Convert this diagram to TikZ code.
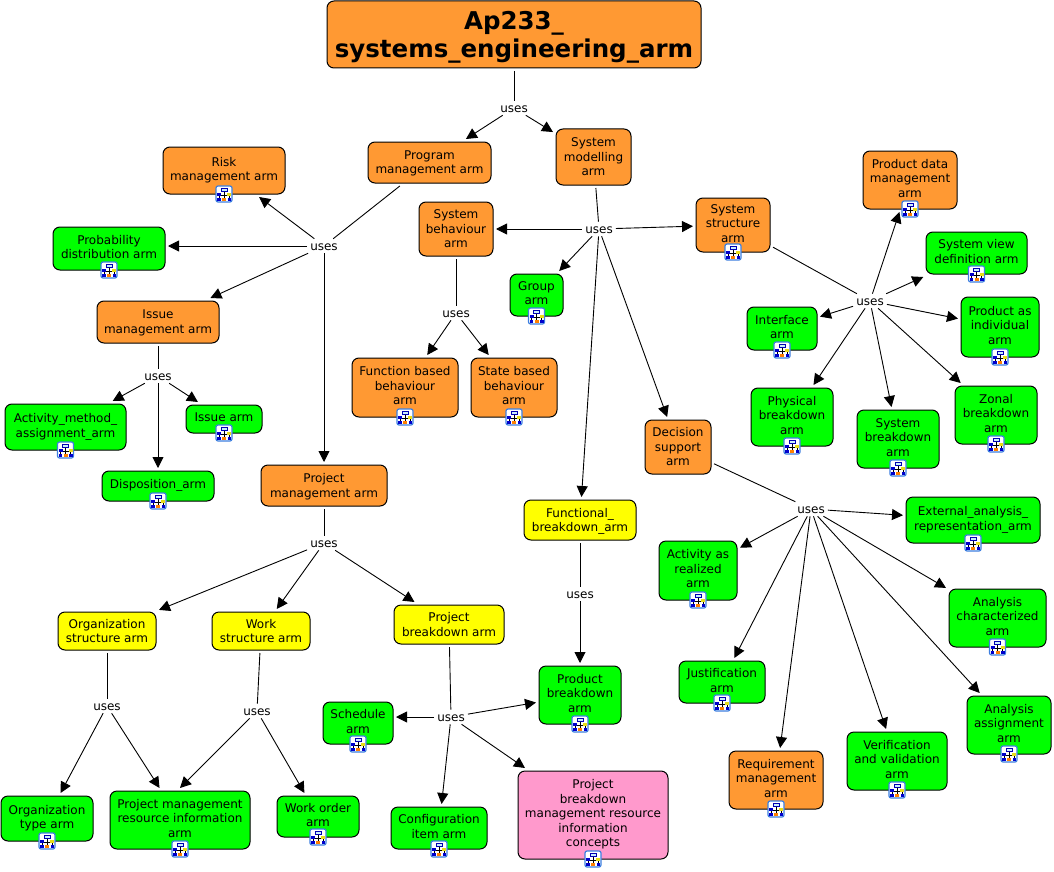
\documentclass[tikz,border=0pt]{standalone}
\usepackage{fontspec}
\setmainfont{DejaVu Sans}
\usetikzlibrary{arrows.meta}
\newcommand{\armfont}{\fontsize{12}{14.5}\selectfont}
\definecolor{armorange}{HTML}{FF9933}
\definecolor{armgreen}{HTML}{00FF00}
\definecolor{armyellow}{HTML}{FFFF00}
\definecolor{armpink}{HTML}{FF99CC}
\definecolor{iconblue}{HTML}{3D7FE0}
\tikzset{
  arm/.style={draw=black,line width=1pt,rounded corners=7pt,align=center,font=\armfont,inner sep=0pt,outer sep=3pt,text depth=0.3pt},
  iconarm/.style={text depth=3.5pt},
  orangearm/.style={arm,fill=armorange},
  greenarm/.style={arm,iconarm,fill=armgreen},
  yellowarm/.style={arm,fill=armyellow},
  pinkarm/.style={arm,iconarm,fill=armpink},
  wh/.style 2 args={minimum width=#1,minimum height=#2},
  uses/.style={font=\armfont,inner xsep=3pt,inner ysep=2pt,text height=10pt},
  line/.style={line width=0.9pt,black},
  link/.style={line,-{Triangle[length=11pt,width=11pt]}},
  treeicon/.pic={
    \draw[iconblue,fill=white,line width=1.2pt,rounded corners=2pt] (-8,-8) rectangle (8,8);
    \draw[black,line width=0.5pt] (0,-3) -- (0,4) (-5,1) -- (5,1) (-5,1) -- (-5,4) (5,1) -- (5,4);
    \draw[blue!70!black,fill=cyan!20,line width=0.5pt] (-3,-6) rectangle (3,-3);
    \fill[blue!80!black] (-7,-1) rectangle (-3,2);
    \fill[yellow!90!black] (3,-1) rectangle (7,2);
    \fill[orange] (-2,3.5) rectangle (2,6.5);
    \fill[blue!80!black] (-7,3.5) rectangle (-3.5,6.5);
    \fill[blue!80!black] (3.5,3.5) rectangle (7,6.5);
  }
}
\begin{document}
\begin{tikzpicture}[x=1pt,y=-1pt]
\useasboundingbox (0,0) rectangle (1054,872);
% top
\node[orangearm,wh={374}{67},font=\fontsize{24.5}{28.5}\selectfont\bfseries] (top) at (514,34.5) {Ap233\_\\systems\_engineering\_arm};
\node[uses] (usestop) at (514,108) {uses};
% upper left
\node[orangearm,wh={123}{41}] (program) at (429.5,162.5) {Program\\management arm};
\node[orangearm,iconarm,wh={122}{47}] (risk) at (224,170.5) {Risk\\management arm};
\node[greenarm,wh={112}{43}] (probability) at (109,248.5) {Probability\\distribution arm};
\node[orangearm,wh={122}{42}] (issue) at (158,322) {Issue\\management arm};
\node[uses] (usesprogram) at (324,246) {uses};
\node[uses] (usesissue) at (158,376) {uses};
\node[greenarm,wh={121}{46}] (activitymethod) at (65.5,427) {Activity\_method\_\\assignment\_arm};
\node[greenarm,wh={76}{28}] (issuearm) at (224,419) {Issue arm};
\node[greenarm,wh={112}{30}] (disposition) at (158,486) {Disposition\_arm};
% system modelling
\node[orangearm,wh={75}{56}] (modelling) at (593.5,157) {System\\modelling\\arm};
\node[uses] (usesmodelling) at (599,229) {uses};
\node[orangearm,wh={74}{54}] (behaviour) at (456,229) {System\\behaviour\\arm};
\node[orangearm,iconarm,wh={74}{54}] (structure) at (733,225) {System\\structure\\arm};
\node[greenarm,wh={53}{42}] (group) at (536.5,295) {Group\\arm};
\node[uses] (usesbehaviour) at (456,313) {uses};
\node[orangearm,iconarm,wh={106}{59}] (function) at (405,387.5) {Function based\\behaviour\\arm};
\node[orangearm,iconarm,wh={86}{59}] (state) at (514,387.5) {State based\\behaviour\\arm};
% system structure
\node[uses] (usesstructure) at (870,301) {uses};
\node[orangearm,iconarm,wh={94}{58}] (productdata) at (910,180) {Product data\\management\\arm};
\node[greenarm,wh={101}{42}] (systemview) at (976.5,253) {System view\\definition arm};
\node[greenarm,wh={78}{60}] (individual) at (1000,327) {Product as\\individual\\arm};
\node[greenarm,wh={70}{43}] (interface) at (782,328.5) {Interface\\arm};
\node[greenarm,wh={82}{58}] (physical) at (792,417) {Physical\\breakdown\\arm};
\node[greenarm,wh={82}{58}] (systembreakdown) at (898,439) {System\\breakdown\\arm};
\node[greenarm,wh={82}{58}] (zonal) at (996,415) {Zonal\\breakdown\\arm};
% decision support
\node[orangearm,wh={66}{54}] (decision) at (678,447) {Decision\\support\\arm};
\node[uses] (usesdecision) at (811,509) {uses};
\node[greenarm,wh={134}{46}] (external) at (973,520) {External\_analysis\_\\representation\_arm};
\node[greenarm,wh={78}{59}] (realized) at (698,570.5) {Activity as\\realized\\arm};
\node[greenarm,wh={97}{58}] (characterized) at (997.5,618) {Analysis\\characterized\\arm};
\node[greenarm,wh={86}{42}] (justification) at (722,682) {Justification\\arm};
\node[orangearm,iconarm,wh={94}{58}] (requirement) at (776,780) {Requirement\\management\\arm};
\node[greenarm,wh={100}{58}] (verification) at (897,761) {Verification\\and validation\\arm};
\node[greenarm,wh={84}{58}] (assignment) at (1009,725) {Analysis\\assignment\\arm};
% functional
\node[yellowarm,wh={112}{40}] (functional) at (580,520) {Functional\_\\breakdown\_arm};
\node[uses] (usesfunctional) at (580,594) {uses};
\node[greenarm,wh={82}{58}] (product) at (580,695) {Product\\breakdown\\arm};
% project management
\node[orangearm,wh={126}{41}] (project) at (324,485.5) {Project\\management arm};
\node[uses] (usesproject) at (324,543) {uses};
\node[yellowarm,wh={98}{38}] (organization) at (107,631) {Organization\\structure arm};
\node[yellowarm,wh={98}{38}] (work) at (261,631) {Work\\structure arm};
\node[yellowarm,wh={110}{39}] (projectbreakdown) at (449,624.5) {Project\\breakdown arm};
\node[uses] (usesorganization) at (107,706) {uses};
\node[uses] (useswork) at (257,711) {uses};
\node[uses] (usesbreakdown) at (451,717) {uses};
\node[greenarm,wh={92}{45}] (organizationtype) at (47,818.5) {Organization\\type arm};
\node[greenarm,wh={140}{58}] (resource) at (180,820) {Project management\\resource information\\arm};
\node[greenarm,wh={82}{41}] (workorder) at (318,816.5) {Work order\\arm};
\node[greenarm,wh={70}{42}] (schedule) at (358,723) {Schedule\\arm};
\node[greenarm,wh={96}{42}] (configuration) at (439,828) {Configuration\\item arm};
\node[pinkarm,wh={150}{88}] (concepts) at (593,815) {Project\\breakdown\\management resource\\information\\concepts};
% lines into uses
\foreach \a/\b in {top/usestop,program/usesprogram,issue/usesissue,modelling/usesmodelling,
  behaviour/usesbehaviour,structure/usesstructure,decision/usesdecision,functional/usesfunctional,
  project/usesproject,organization/usesorganization,work/useswork,projectbreakdown/usesbreakdown}
  \draw[line] (\a) -- (\b);
% arrows out of uses
\foreach \a/\b in {usestop/program,usestop/modelling,
  usesprogram/risk,usesprogram/issue,usesprogram/project,
  usesissue/activitymethod,usesissue/issuearm,usesissue/disposition,
  usesmodelling/behaviour,usesmodelling/structure,usesmodelling/group,usesmodelling/functional,usesmodelling/decision,
  usesbehaviour/function,usesbehaviour/state,
  usesstructure/productdata,usesstructure/systemview,usesstructure/individual,usesstructure/interface,
  usesstructure/physical,usesstructure/systembreakdown,usesstructure/zonal,
  usesdecision/external,usesdecision/realized,usesdecision/characterized,usesdecision/justification,
  usesdecision/requirement,usesdecision/verification,usesdecision/assignment,
  usesfunctional/product,
  usesproject/organization,usesproject/work,usesproject/projectbreakdown,
  usesorganization/organizationtype,usesorganization/resource,
  useswork/resource.north,useswork/workorder,
  usesbreakdown/product,usesbreakdown/configuration,usesbreakdown/concepts}
  \draw[link] (\a) -- (\b);
% these two run level
\draw[link] (usesprogram) -- (probability.east |- usesprogram);
\draw[link] (usesbreakdown) -- (schedule.east |- usesbreakdown);
% tree icons
\foreach \n in {risk,probability,activitymethod,issuearm,disposition,structure,group,function,state,
  productdata,systemview,individual,interface,physical,systembreakdown,zonal,external,realized,
  characterized,justification,requirement,verification,assignment,product,organizationtype,
  resource,workorder,schedule,configuration,concepts}
  \pic[yshift=3pt] at (\n.south) {treeicon};
\end{tikzpicture}
\end{document}
